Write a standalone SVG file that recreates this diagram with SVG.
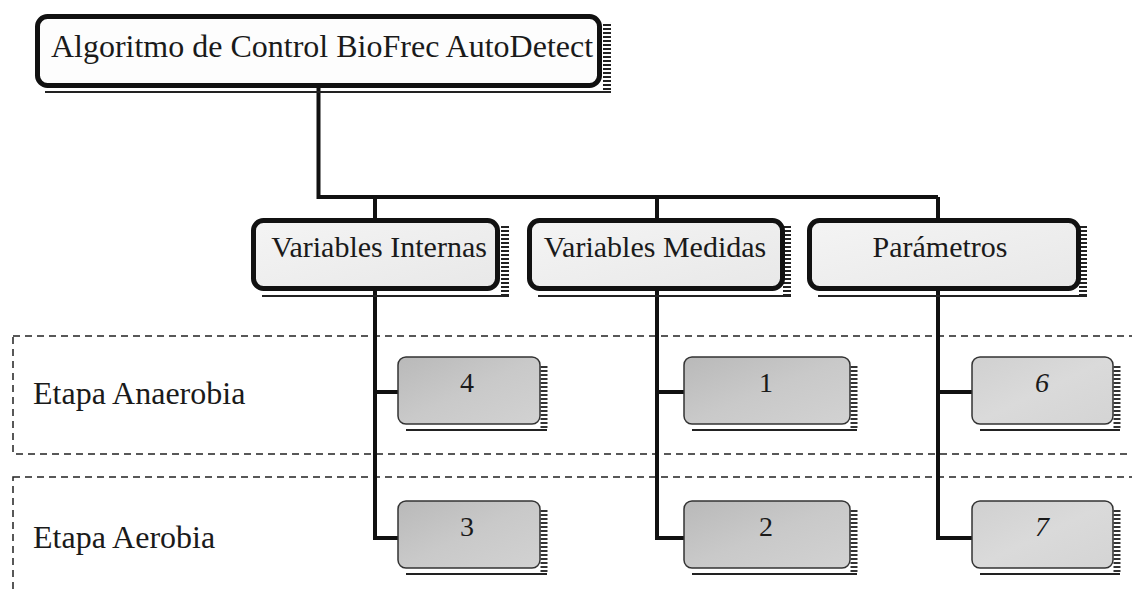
<svg xmlns="http://www.w3.org/2000/svg" width="1132" height="594" viewBox="0 0 1132 594">
<defs>
<linearGradient id="leafA" x1="0" y1="0" x2="1" y2="1">
<stop offset="0" stop-color="#b9b9b9"/><stop offset="0.5" stop-color="#c9c9c9"/><stop offset="1" stop-color="#d2d2d2"/>
</linearGradient>
<linearGradient id="leafB" x1="0" y1="0" x2="1" y2="1">
<stop offset="0" stop-color="#d0d0d0"/><stop offset="0.5" stop-color="#dadada"/><stop offset="1" stop-color="#d4d4d4"/>
</linearGradient>
<linearGradient id="headFill" x1="0" y1="0" x2="1" y2="1">
<stop offset="0" stop-color="#f4f4f4"/><stop offset="1" stop-color="#e8e8e8"/>
</linearGradient>
</defs>
<style>
text{font-family:"Liberation Serif","Times New Roman",serif;fill:#1a1a1a}
.main{font-size:32px}
.head{font-size:30px}
.stage{font-size:32px}
.num{font-size:28px}
.big{fill:#fdfdfd;stroke:#111;stroke-width:5}
.mid{fill:url(#headFill);stroke:#111;stroke-width:5}
.leafA{fill:url(#leafA);stroke:#333;stroke-width:1.5}
.leafB{fill:url(#leafB);stroke:#333;stroke-width:1.5}
.hatch{stroke:#222;stroke-width:8;stroke-dasharray:2 2}
.hatchS{stroke:#333;stroke-width:7;stroke-dasharray:2 2}
.under{stroke:#222;stroke-width:2}
.conn{stroke:#111;stroke-width:4;fill:none}
.zone{fill:none;stroke:#222;stroke-width:1.5;stroke-dasharray:7 5}
</style>
<rect width="1132" height="594" fill="#ffffff"/>
<g id="zones">
<rect class="zone" x="13" y="336" width="1140" height="118"/>
<rect class="zone" x="13" y="477" width="1140" height="140"/>
</g>
<g id="stage-anaerobia"><text class="stage" x="33" y="404">Etapa Anaerobia</text></g>
<g id="stage-aerobia"><text class="stage" x="33" y="548">Etapa Aerobia</text></g>
<g id="connectors">
<path class="conn" d="M318.5 88 V197 H938"/>
<path class="conn" d="M375 197 V218 M657 197 V218 M938 197 V218"/>
<path class="conn" d="M375 291 V538 H398 M375 392 H398"/>
<path class="conn" d="M657 291 V538 H684 M657 392 H684"/>
<path class="conn" d="M938 291 V538 H972 M938 392 H972"/>
</g>
<g id="root">
<line class="hatch" x1="607" y1="24" x2="607" y2="92"/>
<line class="under" x1="45" y1="92" x2="611" y2="92"/>
<rect class="big" x="37.5" y="16.5" width="562" height="69" rx="10"/>
<text class="main" x="322" y="57" text-anchor="middle">Algoritmo de Control BioFrec AutoDetect</text>
</g>
<g id="internas">
<line class="hatch" x1="505" y1="226" x2="505" y2="295"/>
<line class="under" x1="262" y1="296" x2="509" y2="296"/>
<rect class="mid" x="253.5" y="220.5" width="244" height="68" rx="10"/>
<text class="head" x="379" y="257" text-anchor="middle">Variables Internas</text>
</g>
<g id="medidas">
<line class="hatch" x1="787" y1="226" x2="787" y2="295"/>
<line class="under" x1="538" y1="296" x2="791" y2="296"/>
<rect class="mid" x="529.5" y="220.5" width="253" height="68" rx="10"/>
<text class="head" x="655" y="257" text-anchor="middle">Variables Medidas</text>
</g>
<g id="parametros">
<line class="hatch" x1="1083" y1="226" x2="1083" y2="295"/>
<line class="under" x1="818" y1="296" x2="1087" y2="296"/>
<rect class="mid" x="809.5" y="220.5" width="269" height="68" rx="10"/>
<text class="head" x="940" y="257" text-anchor="middle">Parámetros</text>
</g>
<g id="leaf4">
<line class="hatchS" x1="544" y1="366" x2="544" y2="428"/>
<line class="under" x1="406" y1="430" x2="547" y2="430"/>
<rect class="leafA" x="398" y="357" width="142" height="67" rx="8"/>
<text class="num" x="467" y="392" text-anchor="middle">4</text>
</g>
<g id="leaf1">
<line class="hatchS" x1="854" y1="366" x2="854" y2="428"/>
<line class="under" x1="692" y1="430" x2="857" y2="430"/>
<rect class="leafA" x="684" y="357" width="166" height="67" rx="8"/>
<text class="num" x="766" y="392" text-anchor="middle">1</text>
</g>
<g id="leaf6">
<line class="hatchS" x1="1117" y1="366" x2="1117" y2="428"/>
<line class="under" x1="980" y1="430" x2="1120" y2="430"/>
<rect class="leafB" x="972" y="357" width="141" height="67" rx="8"/>
<text class="num" x="1042" y="392" text-anchor="middle" font-style="italic">6</text>
</g>
<g id="leaf3">
<line class="hatchS" x1="544" y1="510" x2="544" y2="572"/>
<line class="under" x1="406" y1="574" x2="547" y2="574"/>
<rect class="leafA" x="398" y="501" width="142" height="67" rx="8"/>
<text class="num" x="467" y="536" text-anchor="middle">3</text>
</g>
<g id="leaf2">
<line class="hatchS" x1="854" y1="510" x2="854" y2="572"/>
<line class="under" x1="692" y1="574" x2="857" y2="574"/>
<rect class="leafA" x="684" y="501" width="166" height="67" rx="8"/>
<text class="num" x="766" y="536" text-anchor="middle">2</text>
</g>
<g id="leaf7">
<line class="hatchS" x1="1117" y1="510" x2="1117" y2="572"/>
<line class="under" x1="980" y1="574" x2="1120" y2="574"/>
<rect class="leafB" x="972" y="501" width="141" height="67" rx="8"/>
<text class="num" x="1042" y="536" text-anchor="middle" font-style="italic">7</text>
</g>
</svg>
